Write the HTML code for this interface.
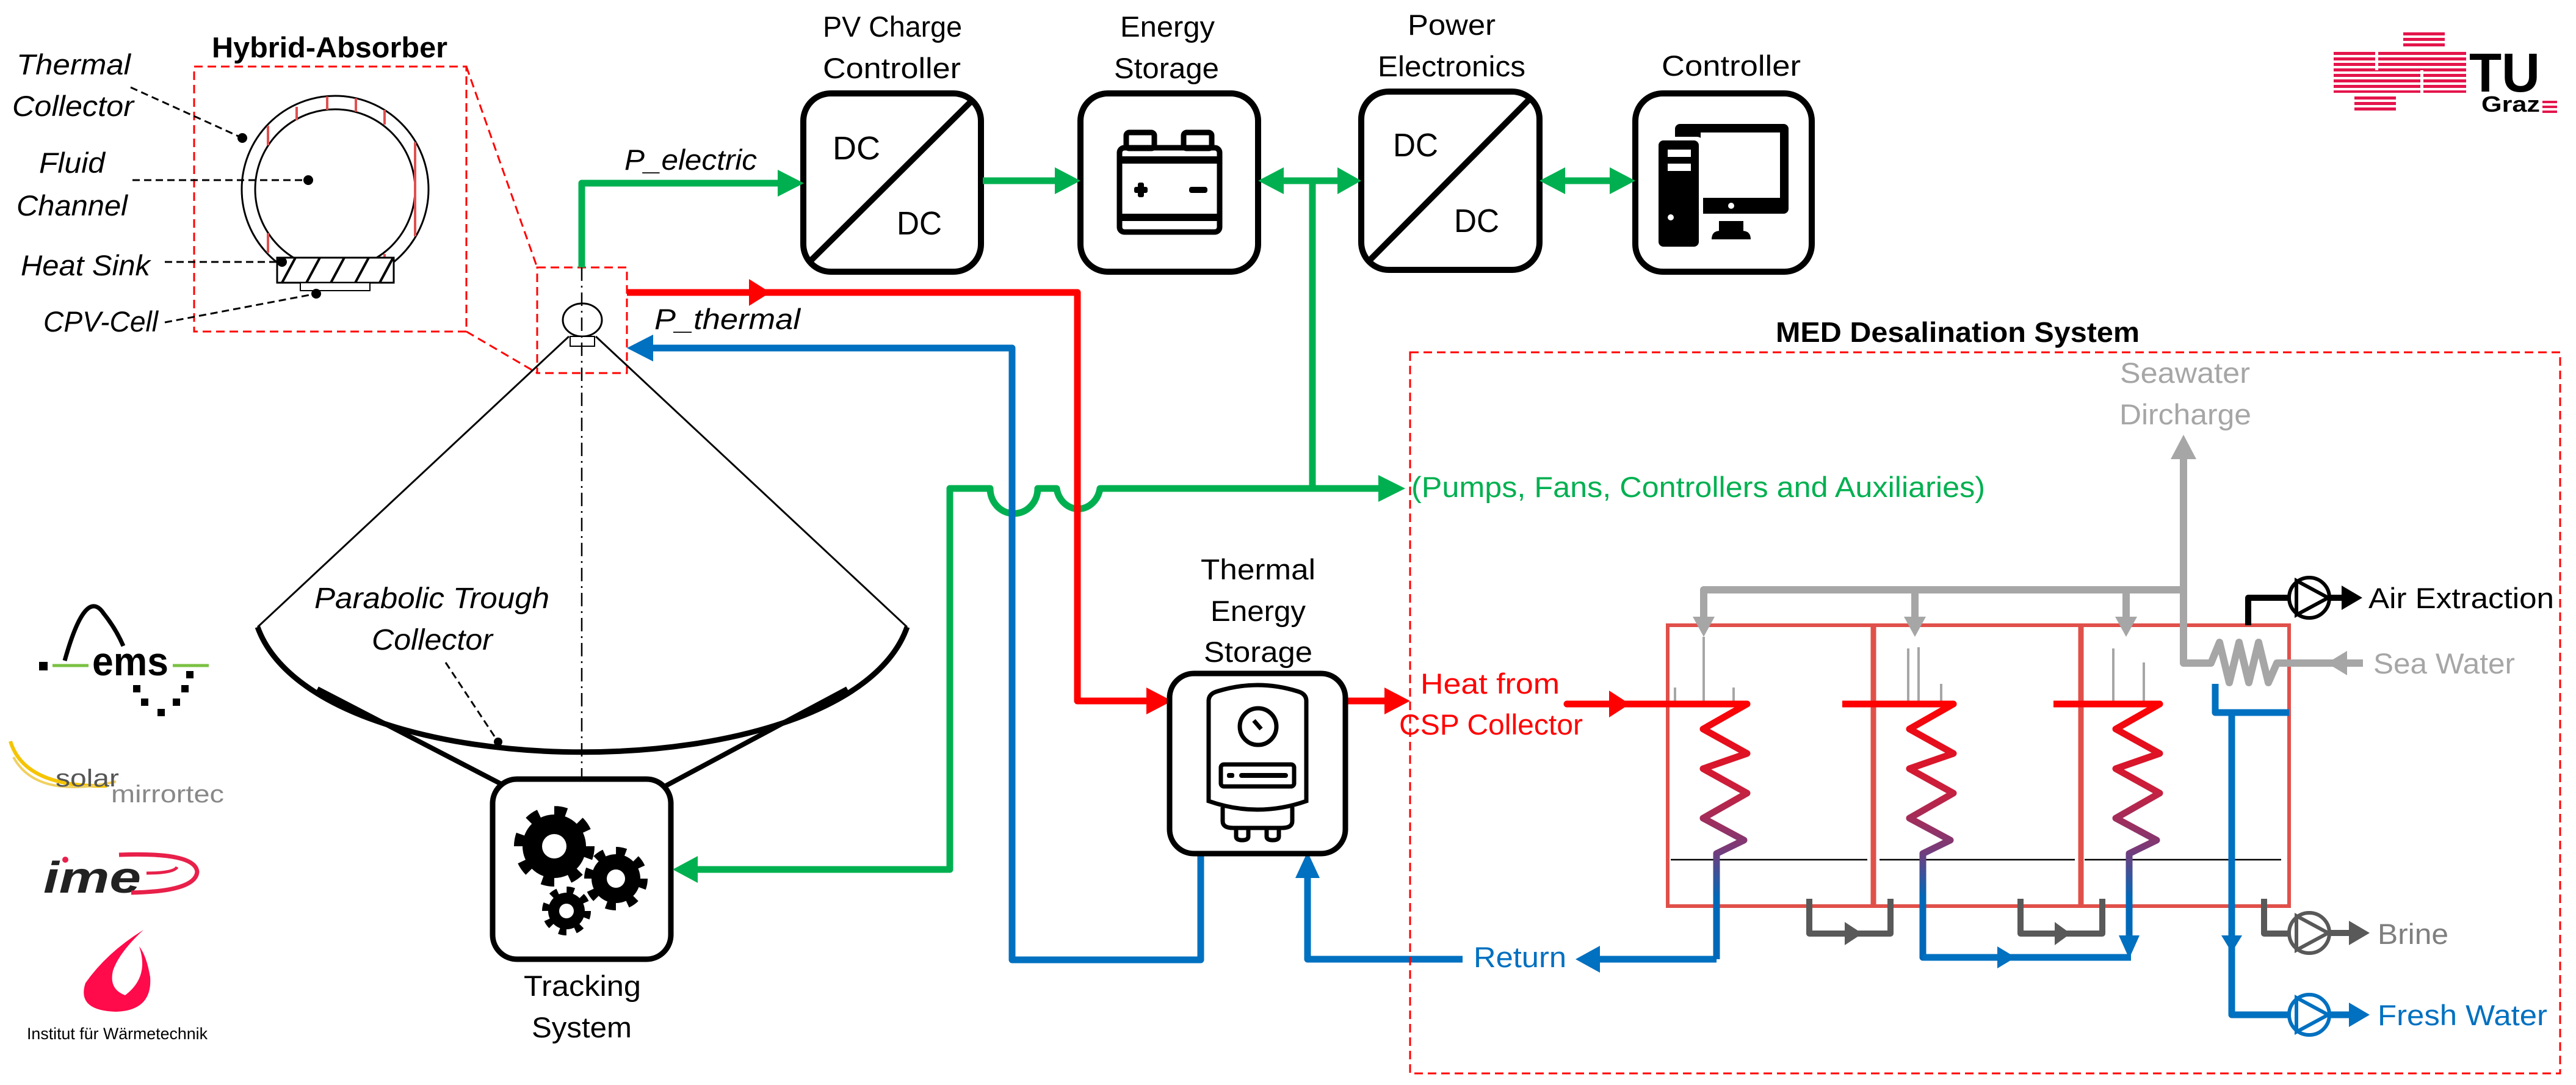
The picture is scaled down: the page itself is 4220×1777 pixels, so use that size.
<!DOCTYPE html>
<html><head><meta charset="utf-8"><style>html,body{margin:0;padding:0;background:#fff}svg{display:block}text{font-family:"Liberation Sans",sans-serif}</style></head>
<body>
<svg xmlns="http://www.w3.org/2000/svg" width="4220" height="1777" viewBox="0 0 4220 1777">
<defs>
<linearGradient id="cg" gradientUnits="userSpaceOnUse" x1="0" y1="1150" x2="0" y2="1470">
<stop offset="0" stop-color="#ff0000"/><stop offset="0.45" stop-color="#c8203e"/><stop offset="0.75" stop-color="#7a3a78"/><stop offset="1" stop-color="#0068b8"/>
</linearGradient>
<pattern id="hatch" patternUnits="userSpaceOnUse" width="40" height="41" patternTransform="translate(454,422)">
<line x1="8" y1="41" x2="30" y2="0" stroke="#000" stroke-width="4"/>
</pattern>
</defs>

<!-- ========== Hybrid absorber detail ========== -->
<text x="347" y="94" font-size="47" font-weight="bold" textLength="386" lengthAdjust="spacingAndGlyphs">Hybrid-Absorber</text>
<rect x="318" y="109" width="446" height="434" fill="none" stroke="#ff0000" stroke-width="3" stroke-dasharray="14 8"/>
<circle cx="549" cy="310" r="153" fill="none" stroke="#000" stroke-width="3"/>
<circle cx="549" cy="310" r="131" fill="none" stroke="#000" stroke-width="3"/>
<g stroke="#e05050" stroke-width="4">
<line x1="439" y1="206" x2="439" y2="238"/><line x1="486" y1="175" x2="486" y2="197"/>
<line x1="536" y1="158" x2="536" y2="180"/><line x1="583" y1="161" x2="583" y2="183"/>
<line x1="630" y1="180" x2="630" y2="204"/><line x1="680" y1="233" x2="680" y2="387"/>
<line x1="439" y1="382" x2="439" y2="414"/><line x1="630" y1="416" x2="630" y2="422"/>
</g>
<rect x="454" y="422" width="191" height="41" fill="#fff" stroke="#000" stroke-width="3"/>
<rect x="454" y="422" width="191" height="41" fill="url(#hatch)" stroke="#000" stroke-width="3"/>
<rect x="492" y="463" width="114" height="13" fill="#fff" stroke="#000" stroke-width="2"/>
<g font-size="47" font-style="italic">
<text x="27" y="122" textLength="187" lengthAdjust="spacingAndGlyphs">Thermal</text>
<text x="20" y="190" textLength="199" lengthAdjust="spacingAndGlyphs">Collector</text>
<text x="64" y="283" textLength="108" lengthAdjust="spacingAndGlyphs">Fluid</text>
<text x="27" y="353" textLength="182" lengthAdjust="spacingAndGlyphs">Channel</text>
<text x="34" y="451" textLength="212" lengthAdjust="spacingAndGlyphs">Heat Sink</text>
<text x="71" y="543" textLength="188" lengthAdjust="spacingAndGlyphs">CPV-Cell</text>
</g>
<g stroke="#000" stroke-width="3" stroke-dasharray="12 7" fill="none">
<line x1="214" y1="143" x2="397" y2="226"/><line x1="217" y1="295" x2="505" y2="295"/>
<line x1="270" y1="429" x2="462" y2="429"/><line x1="270" y1="528" x2="518" y2="481"/>
</g>
<g fill="#000"><circle cx="397" cy="226" r="8"/><circle cx="505" cy="295" r="8"/><circle cx="462" cy="429" r="8"/><circle cx="518" cy="481" r="8"/></g>
<rect x="880" y="438" width="147" height="173" fill="none" stroke="#ff0000" stroke-width="3" stroke-dasharray="14 8"/>
<line x1="764" y1="109" x2="880" y2="438" stroke="#ff0000" stroke-width="3" stroke-dasharray="14 8"/>
<line x1="764" y1="543" x2="880" y2="611" stroke="#ff0000" stroke-width="3" stroke-dasharray="14 8"/>

<!-- ========== Collector ========== -->
<ellipse cx="954" cy="524" rx="32" ry="27" fill="#fff" stroke="#000" stroke-width="3"/>
<rect x="934" y="551" width="40" height="16" fill="#fff" stroke="#000" stroke-width="2"/>
<line x1="932" y1="551" x2="422" y2="1027" stroke="#000" stroke-width="3"/>
<line x1="976" y1="551" x2="1486" y2="1027" stroke="#000" stroke-width="3"/>
<line x1="953" y1="438" x2="953" y2="1276" stroke="#000" stroke-width="2.5" stroke-dasharray="22 8 3 8"/>
<path d="M422,1027 C520,1300 1390,1300 1486,1027" fill="none" stroke="#000" stroke-width="9"/>
<line x1="520" y1="1128" x2="821" y2="1284" stroke="#000" stroke-width="8"/>
<line x1="1388" y1="1128" x2="1085" y2="1290" stroke="#000" stroke-width="8"/>
<g font-size="48" font-style="italic">
<text x="515" y="996" textLength="385" lengthAdjust="spacingAndGlyphs">Parabolic Trough</text>
<text x="609" y="1064" textLength="198" lengthAdjust="spacingAndGlyphs">Collector</text>
</g>
<line x1="730" y1="1085" x2="816" y2="1215" stroke="#000" stroke-width="3" stroke-dasharray="12 7"/>
<circle cx="816" cy="1215" r="7" fill="#000"/>

<!-- Tracking system -->
<rect x="807" y="1276" width="292" height="295" rx="40" fill="#fff" stroke="#000" stroke-width="9"/>
<g fill="#000">
<circle cx="908" cy="1386" r="52"/><circle cx="908" cy="1386" r="58" fill="none" stroke="#000" stroke-width="16" stroke-dasharray="20 25.5"/>
<circle cx="1009" cy="1439" r="40"/><circle cx="1009" cy="1439" r="45" fill="none" stroke="#000" stroke-width="14" stroke-dasharray="16 19.3"/>
<circle cx="928" cy="1492" r="30"/><circle cx="928" cy="1492" r="34" fill="none" stroke="#000" stroke-width="12" stroke-dasharray="12 14.7"/>
</g>
<g fill="#fff"><circle cx="908" cy="1386" r="20"/><circle cx="1009" cy="1439" r="15"/><circle cx="928" cy="1492" r="12"/></g>
<g font-size="47">
<text x="858" y="1631" textLength="192" lengthAdjust="spacingAndGlyphs">Tracking</text>
<text x="871" y="1699" textLength="164" lengthAdjust="spacingAndGlyphs">System</text>
</g>

<!-- ========== Top boxes ========== -->
<g font-size="47">
<text x="1348" y="60" textLength="228" lengthAdjust="spacingAndGlyphs">PV Charge</text>
<text x="1348" y="128" textLength="226" lengthAdjust="spacingAndGlyphs">Controller</text>
<text x="1835" y="60" textLength="155" lengthAdjust="spacingAndGlyphs">Energy</text>
<text x="1825" y="128" textLength="172" lengthAdjust="spacingAndGlyphs">Storage</text>
<text x="2306" y="57" textLength="144" lengthAdjust="spacingAndGlyphs">Power</text>
<text x="2257" y="125" textLength="242" lengthAdjust="spacingAndGlyphs">Electronics</text>
<text x="2722" y="124" textLength="228" lengthAdjust="spacingAndGlyphs">Controller</text>
</g>
<g fill="none" stroke="#000" stroke-width="10">
<rect x="1316" y="153" width="291" height="292" rx="45"/>
<rect x="1770" y="153" width="291" height="292" rx="45"/>
<rect x="2230" y="150" width="292" height="292" rx="45"/>
<rect x="2679" y="153" width="289" height="292" rx="45"/>
<line x1="1593" y1="164" x2="1327" y2="428"/>
<line x1="2504" y1="164" x2="2245" y2="425"/>
</g>
<g font-size="54">
<text x="1364" y="261" textLength="78" lengthAdjust="spacingAndGlyphs">DC</text>
<text x="1469" y="384" textLength="74" lengthAdjust="spacingAndGlyphs">DC</text>
<text x="2282" y="256" textLength="74" lengthAdjust="spacingAndGlyphs">DC</text>
<text x="2382" y="380" textLength="74" lengthAdjust="spacingAndGlyphs">DC</text>
</g>
<!-- battery -->
<g fill="none" stroke="#000" stroke-width="9">
<rect x="1845" y="217" width="46" height="26" rx="5"/>
<rect x="1939" y="217" width="46" height="26" rx="5"/>
<rect x="1834" y="242" width="164" height="138" rx="8"/>
</g>
<rect x="1834" y="256" width="164" height="12" fill="#000"/>
<rect x="1834" y="350" width="164" height="12" fill="#000"/>
<rect x="1858" y="306" width="22" height="10" rx="3" fill="#000"/><rect x="1864" y="299" width="10" height="24" rx="3" fill="#000"/>
<rect x="1948" y="306" width="30" height="10" rx="4" fill="#000"/>
<!-- computer -->
<rect x="2744" y="203" width="186" height="147" rx="8" fill="#000"/>
<rect x="2786" y="217" width="130" height="107" fill="#fff"/>
<rect x="2712" y="224" width="78" height="186" rx="10" fill="#fff"/>
<rect x="2717" y="230" width="66" height="174" rx="8" fill="#000"/>
<rect x="2732" y="245" width="38" height="12" fill="#fff"/><rect x="2732" y="268" width="38" height="12" fill="#fff"/>
<circle cx="2737" cy="356" r="5" fill="#fff"/><circle cx="2836" cy="337" r="5" fill="#fff"/>
<rect x="2816" y="362" width="40" height="16" fill="#000"/>
<path d="M2804,392 Q2804,378 2818,378 H2854 Q2868,378 2868,392 Z" fill="#000"/>

<!-- ========== Green lines ========== -->
<g fill="none" stroke="#00b050" stroke-width="11" stroke-linejoin="round">
<path d="M953,438 V300 H1280"/>
<path d="M1610,296 H1735"/>
<path d="M2095,296 H2195"/>
<path d="M2150,296 V800"/>
<path d="M2265,800 H1802 A36 40 0 0 1 1731,800 H1700 A38 40 0 0 1 1622,800 H1556 V1424 H1140"/>
<path d="M2555,296 H2645"/>
</g>
<g fill="#00b050">
<polygon points="1317,300 1274,278 1274,322"/>
<polygon points="1770,296 1728,274 1728,318"/>
<polygon points="2061,296 2103,274 2103,318"/>
<polygon points="2230,296 2191,274 2191,318"/>
<polygon points="2302,800 2258,778 2258,822"/>
<polygon points="1102,1424 1143,1402 1143,1446"/>
<polygon points="2522,296 2564,274 2564,318"/>
<polygon points="2679,296 2637,274 2637,318"/>
</g>
<text x="1023" y="278" font-size="47" font-style="italic" textLength="217" lengthAdjust="spacingAndGlyphs">P_electric</text>
<text x="2312" y="814" font-size="47" fill="#00b050" textLength="940" lengthAdjust="spacingAndGlyphs">(Pumps, Fans, Controllers and Auxiliaries)</text>

<!-- ========== Red / Blue loops ========== -->
<g fill="none" stroke="#ff0000" stroke-width="11" stroke-linejoin="round">
<path d="M1027,479 H1765 V1148 H1885"/>
<path d="M2204,1148 H2275"/>
</g>
<g fill="#ff0000">
<polygon points="1262,479 1227,457 1227,501"/>
<polygon points="1920,1148 1878,1126 1878,1170"/>
<polygon points="2310,1148 2268,1126 2268,1170"/>
</g>
<text x="1072" y="539" font-size="47" font-style="italic" textLength="239" lengthAdjust="spacingAndGlyphs">P_thermal</text>
<g fill="none" stroke="#0070c0" stroke-width="11" stroke-linejoin="round">
<path d="M1967,1398 V1572 H1658 V570 H1065"/>
<path d="M2396,1571 H2142 V1435"/>
<path d="M2615,1571 H2812"/>
</g>
<g fill="#0070c0">
<polygon points="1027,570 1070,548 1070,592"/>
<polygon points="2142,1395 2122,1438 2162,1438"/>
<polygon points="2581,1571 2621,1549 2621,1593"/>
</g>
<text x="2414" y="1584" font-size="47" fill="#0070c0" textLength="152" lengthAdjust="spacingAndGlyphs">Return</text>

<!-- TES -->
<g font-size="47">
<text x="1967" y="949" textLength="188" lengthAdjust="spacingAndGlyphs">Thermal</text>
<text x="1983" y="1017" textLength="156" lengthAdjust="spacingAndGlyphs">Energy</text>
<text x="1972" y="1084" textLength="178" lengthAdjust="spacingAndGlyphs">Storage</text>
</g>
<rect x="1916" y="1103" width="288" height="295" rx="40" fill="#fff" stroke="#000" stroke-width="9"/>
<g fill="none" stroke="#000" stroke-width="7">
<path d="M1980,1148 Q1980,1136 1995,1132 Q2060,1112 2125,1132 Q2140,1136 2140,1148 V1312 Q2060,1340 1980,1312 Z"/>
<circle cx="2061" cy="1190" r="30"/>
<line x1="2054" y1="1180" x2="2066" y2="1194"/>
<rect x="2000" y="1252" width="120" height="36" rx="5"/>
<path d="M2003,1322 V1345 Q2003,1356 2020,1356 H2100 Q2117,1356 2117,1345 V1322"/>
<path d="M2025,1356 V1370 Q2025,1376 2035,1376 Q2045,1376 2045,1370 V1356"/>
<path d="M2075,1356 V1370 Q2075,1376 2085,1376 Q2095,1376 2095,1370 V1356"/>
</g>
<rect x="2010" y="1266" width="12" height="8" rx="3" fill="#000"/><rect x="2030" y="1266" width="80" height="8" rx="4" fill="#000"/>

<!-- ========== MED ========== -->
<text x="2909" y="560" font-size="46" font-weight="bold" textLength="596" lengthAdjust="spacingAndGlyphs">MED Desalination System</text>
<rect x="2310" y="577" width="1884" height="1181" fill="none" stroke="#ff0000" stroke-width="3" stroke-dasharray="14 8"/>
<g font-size="47" fill="#a6a6a6">
<text x="3473" y="627" textLength="213" lengthAdjust="spacingAndGlyphs">Seawater</text>
<text x="3472" y="695" textLength="216" lengthAdjust="spacingAndGlyphs">Dircharge</text>
<text x="3888" y="1103" textLength="232" lengthAdjust="spacingAndGlyphs">Sea Water</text>
</g>
<text x="2327" y="1136" font-size="47" fill="#ff0000" textLength="228" lengthAdjust="spacingAndGlyphs">Heat from</text>
<text x="2292" y="1203" font-size="47" fill="#ff0000" textLength="301" lengthAdjust="spacingAndGlyphs">CSP Collector</text>

<!-- effect boxes -->
<g fill="none" stroke="#e0504a" stroke-width="6">
<rect x="2732" y="1024" width="1018" height="460"/>
<line x1="3069" y1="1024" x2="3069" y2="1484" stroke-width="9"/>
<line x1="3409" y1="1024" x2="3409" y2="1484" stroke-width="9"/>
</g>
<g stroke="#000" stroke-width="2.5">
<line x1="2737" y1="1408" x2="3059" y2="1408"/><line x1="3079" y1="1408" x2="3399" y2="1408"/><line x1="3415" y1="1408" x2="3737" y2="1408"/>
</g>
<!-- gray -->
<g fill="none" stroke="#a6a6a6" stroke-width="12" stroke-linejoin="round">
<path d="M2791,1015 V966 H3577"/>
<path d="M3137,966 V1015"/><path d="M3483,966 V1015"/>
<path d="M3577,745 V1086 H3622 L3636,1052 L3652,1118 L3668,1052 L3684,1118 L3700,1052 L3716,1118 L3730,1086 H3871"/>
</g>
<g fill="#a6a6a6">
<polygon points="3577,712 3556,752 3598,752"/>
<polygon points="2791,1043 2773,1010 2809,1010"/>
<polygon points="3137,1043 3119,1010 3155,1010"/>
<polygon points="3483,1043 3465,1010 3501,1010"/>
<polygon points="3812,1086 3845,1066 3845,1106"/>
</g>
<g stroke="#a6a6a6" stroke-width="4">
<line x1="2791" y1="1043" x2="2791" y2="1148"/><line x1="2744" y1="1126" x2="2744" y2="1148"/><line x1="2840" y1="1126" x2="2840" y2="1148"/>
<line x1="3126" y1="1062" x2="3126" y2="1148"/><line x1="3143" y1="1060" x2="3143" y2="1148"/><line x1="3180" y1="1120" x2="3180" y2="1148"/>
<line x1="3462" y1="1062" x2="3462" y2="1148"/><line x1="3512" y1="1085" x2="3512" y2="1148"/>
</g>
<!-- coils -->
<g fill="none" stroke="url(#cg)" stroke-width="11" stroke-linejoin="round">
<path d="M2680,1153 H2862 L2790,1194 L2862,1234 L2790,1259 L2862,1299 L2790,1340 L2857,1376 L2812,1398 V1571"/>
<path d="M3018,1153 H3200 L3128,1194 L3200,1234 L3128,1259 L3200,1299 L3128,1340 L3195,1376 L3150,1398 V1568 H3491"/>
<path d="M3364,1153 H3538 L3466,1194 L3538,1234 L3466,1259 L3538,1299 L3466,1340 L3533,1376 L3488,1398 V1545"/>
</g>
<line x1="2567" y1="1153" x2="2700" y2="1153" stroke="#ff0000" stroke-width="11" stroke-linecap="round"/>
<polygon points="2670,1153 2636,1131 2636,1175" fill="#ff0000"/>
<polygon points="3302,1568 3272,1550 3272,1586" fill="#0070c0"/>
<polygon points="3488,1570 3471,1532 3505,1532" fill="#0070c0"/>
<line x1="3150" y1="1568" x2="3491" y2="1568" stroke="#0070c0" stroke-width="11"/>
<!-- dark gray brine -->
<g fill="none" stroke="#595959" stroke-width="10" stroke-linejoin="round">
<path d="M2964,1472 V1529 H3097 V1472"/>
<path d="M3310,1472 V1529 H3444 V1472"/>
<path d="M3709,1472 V1529 H3750"/>
<path d="M3816,1528 H3852"/>
</g>
<g fill="#595959">
<polygon points="3051,1529 3022,1510 3022,1548"/>
<polygon points="3392,1529 3366,1510 3366,1548"/>
<polygon points="3882,1528 3848,1508 3848,1548"/>
</g>
<g fill="none" stroke="#595959" stroke-width="6"><circle cx="3783" cy="1528" r="33"/><polygon points="3762,1500 3762,1556 3814,1528"/></g>
<text x="3895" y="1546" font-size="47" fill="#7f7f7f" textLength="116" lengthAdjust="spacingAndGlyphs">Brine</text>
<!-- air extraction -->
<g fill="none" stroke="#000" stroke-width="10" stroke-linejoin="round"><path d="M3683,1024 V979 H3750"/><path d="M3816,979 H3840"/></g>
<g fill="none" stroke="#000" stroke-width="6"><circle cx="3783" cy="979" r="33"/><polygon points="3762,951 3762,1007 3814,979"/></g>
<polygon points="3870,979 3836,959 3836,999" fill="#000"/>
<text x="3880" y="996" font-size="47" textLength="304" lengthAdjust="spacingAndGlyphs">Air Extraction</text>
<!-- fresh water -->
<g fill="none" stroke="#0070c0" stroke-width="11" stroke-linejoin="round">
<path d="M3629,1120 V1167 H3750"/>
<path d="M3656,1167 V1662 H3750"/>
<path d="M3816,1662 H3852"/>
</g>
<polygon points="3656,1560 3639,1532 3673,1532" fill="#0070c0"/>
<g fill="none" stroke="#0070c0" stroke-width="6"><circle cx="3783" cy="1662" r="33"/><polygon points="3762,1634 3762,1690 3814,1662"/></g>
<polygon points="3882,1662 3848,1642 3848,1682" fill="#0070c0"/>
<text x="3895" y="1679" font-size="47" fill="#0070c0" textLength="278" lengthAdjust="spacingAndGlyphs">Fresh Water</text>

<!-- ========== Logos ========== -->
<path d="M106,1082 Q140,960 170,1005 Q190,1030 202,1058" fill="none" stroke="#000" stroke-width="7"/>
<rect x="64" y="1084" width="14" height="14" fill="#000"/>
<line x1="86" y1="1090" x2="145" y2="1090" stroke="#7ac143" stroke-width="5"/>
<line x1="283" y1="1090" x2="342" y2="1090" stroke="#7ac143" stroke-width="5"/>
<text x="151" y="1106" font-size="66" font-weight="bold" textLength="125" lengthAdjust="spacingAndGlyphs">ems</text>
<g fill="#000"><rect x="305" y="1099" width="12" height="12"/><rect x="218" y="1122" width="12" height="12"/><rect x="297" y="1122" width="12" height="12"/><rect x="231" y="1144" width="12" height="12"/><rect x="283" y="1144" width="12" height="12"/><rect x="258" y="1161" width="12" height="12"/></g>
<path d="M17,1214 Q40,1290 175,1287" fill="none" stroke="#f5c400" stroke-width="6"/>
<path d="M22,1240 Q60,1310 190,1280" fill="none" stroke="#f0d060" stroke-width="4"/>
<text x="91" y="1288" font-size="40" fill="#555" textLength="104" lengthAdjust="spacingAndGlyphs">solar</text>
<text x="182" y="1314" font-size="40" fill="#888" textLength="185" lengthAdjust="spacingAndGlyphs">mirrortec</text>
<text x="71" y="1462" font-size="72" font-weight="bold" font-style="italic" fill="#222" textLength="160" lengthAdjust="spacingAndGlyphs">ime</text>
<path d="M195,1400 Q320,1395 323,1428 Q320,1460 215,1462" fill="none" stroke="#e8204a" stroke-width="7"/>
<path d="M240,1430 Q285,1430 290,1420" fill="none" stroke="#e8204a" stroke-width="5"/>
<circle cx="107" cy="1408" r="5" fill="#e8204a"/>
<path d="M235,1523 Q175,1560 140,1610 Q125,1655 190,1657 Q250,1655 246,1600 Q240,1565 228,1550 Q245,1600 205,1630 Q178,1620 185,1590 Q195,1560 235,1523 Z" fill="#ff0a4a"/>
<text x="44" y="1702" font-size="27" textLength="296" lengthAdjust="spacingAndGlyphs">Institut für Wärmetechnik</text>
<!-- TU Graz -->
<g fill="#e4154b">
<rect x="3937" y="53" width="68" height="5"/><rect x="3937" y="62" width="68" height="5"/><rect x="3937" y="71" width="68" height="5"/>
<rect x="3823" y="85" width="217" height="5"/><rect x="3823" y="94" width="217" height="5"/><rect x="3823" y="103" width="217" height="5"/><rect x="3823" y="112" width="217" height="5"/><rect x="3823" y="121" width="217" height="5"/><rect x="3823" y="130" width="217" height="5"/><rect x="3823" y="139" width="217" height="5"/><rect x="3823" y="148" width="217" height="4"/>
<rect x="3857" y="158" width="68" height="5"/><rect x="3857" y="167" width="68" height="5"/><rect x="3857" y="176" width="68" height="5"/>
<rect x="4165" y="165" width="24" height="4"/><rect x="4165" y="173" width="24" height="4"/><rect x="4165" y="181" width="24" height="4"/>
</g>
<g fill="#fff"><rect x="3891" y="85" width="5" height="30"/><rect x="3965" y="115" width="5" height="37"/></g>
<text x="4045" y="150" font-size="90" font-weight="bold" textLength="116" lengthAdjust="spacingAndGlyphs">TU</text>
<text x="4065" y="183" font-size="36" font-weight="bold" textLength="96" lengthAdjust="spacingAndGlyphs">Graz</text>
</svg>
</body></html>
